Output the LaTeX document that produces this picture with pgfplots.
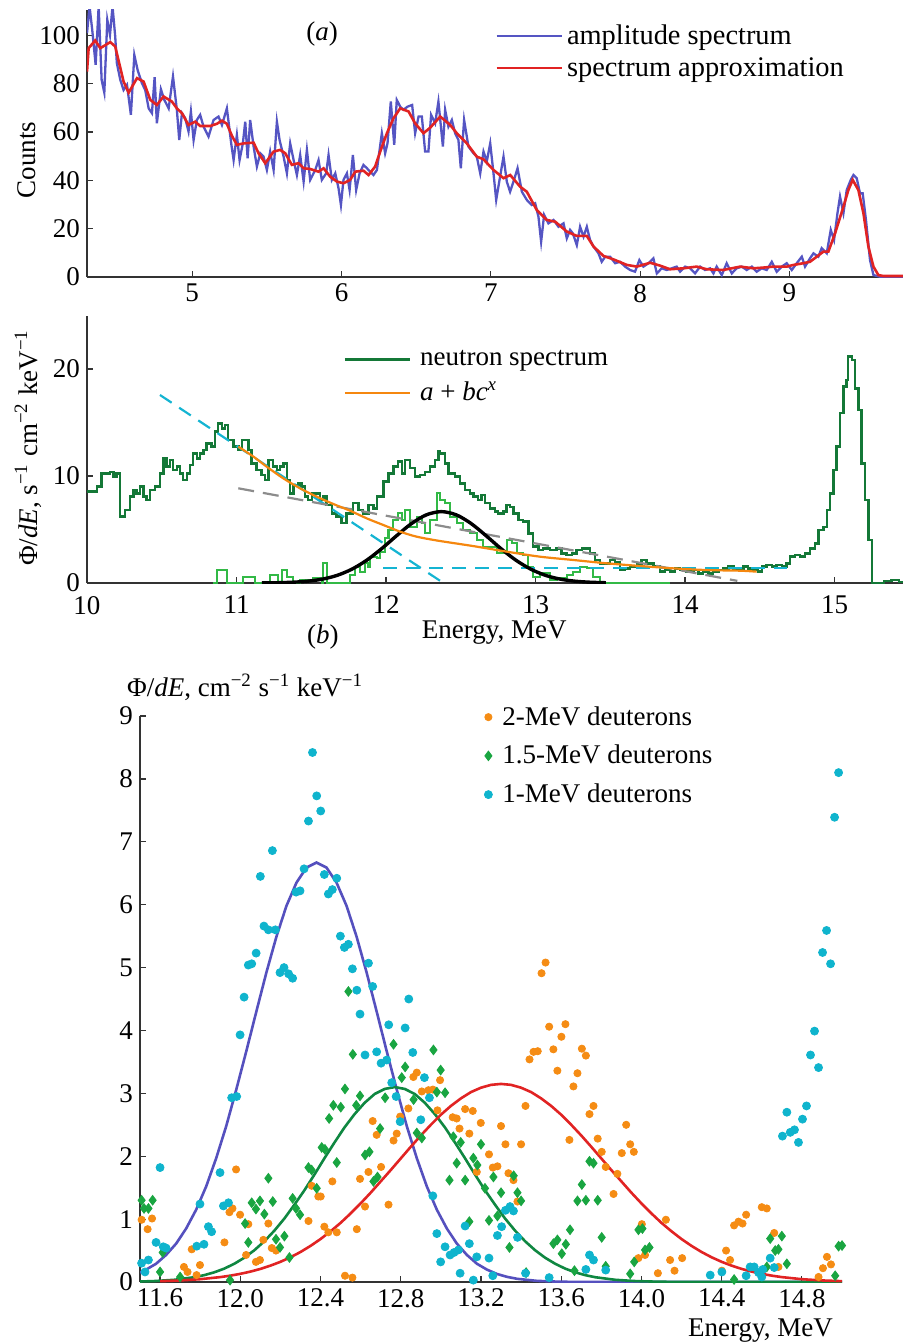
\documentclass[border=0pt]{standalone}
\usepackage{fontspec}
\setmainfont{Liberation Serif}
\usepackage{pgfplots}
\pgfplotsset{compat=1.18}

\definecolor{ablue}{RGB}{85,85,195}
\definecolor{ared}{RGB}{225,35,35}
\definecolor{dgreen}{RGB}{20,120,55}
\definecolor{lgreen}{RGB}{50,185,70}
\definecolor{borange}{RGB}{245,135,15}
\definecolor{bcyan}{RGB}{20,180,210}
\definecolor{bgray}{RGB}{140,140,140}
\definecolor{cpurple}{RGB}{85,80,190}
\definecolor{cgreen}{RGB}{15,135,65}
\definecolor{mgreen}{RGB}{25,165,65}
\definecolor{corange}{RGB}{245,140,20}
\definecolor{ccyan}{RGB}{15,180,205}

\newcommand\fs{\fontsize{13.5}{16}\selectfont}
\pgfplotsset{
  myaxis/.style={
    scale only axis, axis lines*=left, tick align=inside, major tick length=3pt,
    axis line style={line width=0.75pt, black!80}, tick style={line width=0.6pt, black!80},
    font=\fs, clip mode=individual,
    /pgf/number format/assume math mode=true,
    legend style={draw=none, fill=none, inner sep=0pt, row sep=1pt,
      cells={anchor=west}, font=\fs},
  },
  lineleg/.style={legend image code/.code={\draw[##1] (0pt,0pt) -- (32.5pt,0pt);}},
}

\begin{document}
\begin{tikzpicture}
\useasboundingbox (0,0) rectangle (451.5pt,-671.5pt);

% ---------- (a)
\begin{axis}[myaxis, lineleg, at={(43.5pt,-138.5pt)}, anchor=south west,
  width=408pt, height=133.5pt,
  xmin=4.295, xmax=9.761, ymin=0, ymax=110.5,
  xtick={5,6,7,8,9}, ytick={0,20,40,60,80,100},
  ylabel={Counts},
  every axis y label/.style={at={(axis description cs:-0.0735,0.438)},rotate=90,anchor=center},
  legend style={at={(axis description cs:0.5,0.962)},anchor=north west, font=\fontsize{14.2}{16}\selectfont},
]
\addplot[ablue, line width=1.15pt] coordinates {
(4.295,100.9)(4.312,112)(4.330,102.3)(4.353,87.8)(4.373,112)(4.393,81.6)(4.411,76.3)(4.431,106.4)(4.449,100.2)(4.466,112)(4.484,99.5)(4.495,88.5)(4.518,81.6)(4.540,77.4)(4.563,79.5)(4.589,67.1)(4.612,91.9)(4.634,85.7)(4.663,80.2)(4.685,77.4)(4.708,69.8)(4.730,67.8)(4.748,82.7)(4.763,63.6)(4.790,77.7)(4.813,73.3)(4.842,69.8)(4.871,83.0)(4.897,69.2)(4.913,56.7)(4.931,67.8)(4.953,65.7)(4.975,60.2)(4.991,68.5)(5.009,56.7)(5.031,65.0)(5.053,67.1)(5.076,62.2)(5.109,58.1)(5.143,65.0)(5.176,66.4)(5.199,62.9)(5.232,69.8)(5.261,55.3)(5.277,48.4)(5.299,58.8)(5.317,48.4)(5.339,55.3)(5.355,64.3)(5.371,49.1)(5.388,65.0)(5.411,54.0)(5.433,45.7)(5.456,51.2)(5.478,49.8)(5.500,44.3)(5.522,51.9)(5.545,44.3)(5.567,64.3)(5.585,56.7)(5.612,49.8)(5.634,42.9)(5.656,55.3)(5.679,48.4)(5.701,42.2)(5.723,50.5)(5.746,39.5)(5.768,52.6)(5.790,40.2)(5.824,44.3)(5.846,48.4)(5.868,40.2)(5.897,42.9)(5.913,50.5)(5.935,40.2)(5.958,42.9)(5.980,36.7)(5.996,29.8)(6.013,40.2)(6.036,42.9)(6.054,36.0)(6.076,50.5)(6.098,36.0)(6.121,42.9)(6.147,46.4)(6.170,45.0)(6.192,43.6)(6.214,42.2)(6.237,44.3)(6.270,59.5)(6.292,51.2)(6.308,55.3)(6.330,72.6)(6.353,54.7)(6.370,73.3)(6.393,70.5)(6.415,69.2)(6.442,70.5)(6.473,71.2)(6.493,59.5)(6.516,66.4)(6.538,66.4)(6.560,51.9)(6.582,51.9)(6.600,67.1)(6.627,63.6)(6.649,72.6)(6.679,54.0)(6.694,69.2)(6.716,62.2)(6.739,65.0)(6.761,59.5)(6.783,56.7)(6.799,45.0)(6.821,65.0)(6.850,54.0)(6.884,51.2)(6.906,49.8)(6.929,42.9)(6.951,51.9)(6.973,47.8)(6.996,55.3)(7.018,42.9)(7.036,31.9)(7.062,41.5)(7.085,49.8)(7.107,39.5)(7.129,35.3)(7.152,39.5)(7.179,45.0)(7.208,35.3)(7.241,31.9)(7.274,29.8)(7.297,30.5)(7.319,25.0)(7.337,14.6)(7.357,25.7)(7.386,22.2)(7.420,23.6)(7.453,20.8)(7.487,22.2)(7.509,16.0)(7.531,19.5)(7.549,18.1)(7.576,13.2)(7.598,20.8)(7.621,16.7)(7.643,20.8)(7.665,15.3)(7.688,12.6)(7.721,9.8)(7.743,6.3)(7.766,8.4)(7.799,8.4)(7.833,5.7)(7.866,6.3)(7.899,4.3)(7.933,2.9)(7.966,2.2)(7.995,7.0)(8.022,4.3)(8.056,5.7)(8.089,7.7)(8.112,1.5)(8.145,3.6)(8.178,2.9)(8.212,3.6)(8.245,4.3)(8.268,2.2)(8.301,4.3)(8.335,3.6)(8.368,1.5)(8.402,4.3)(8.435,2.9)(8.469,3.6)(8.491,1.5)(8.513,4.3)(8.547,0.8)(8.580,5.7)(8.614,1.5)(8.647,3.6)(8.681,4.3)(8.714,2.9)(8.748,4.3)(8.781,2.2)(8.815,3.6)(8.848,2.9)(8.882,6.3)(8.915,2.2)(8.949,4.3)(8.982,5.7)(9.016,2.9)(9.049,5.7)(9.083,8.4)(9.105,4.3)(9.138,7.7)(9.161,9.8)(9.194,8.4)(9.216,11.9)(9.250,9.8)(9.277,19.5)(9.299,15.3)(9.322,26.4)(9.339,33.3)(9.362,26.4)(9.384,36.0)(9.411,40.2)(9.429,42.2)(9.451,40.9)(9.473,34.6)(9.491,34.6)(9.513,23.6)(9.540,7.0)(9.563,0.8)(9.607,0.1)(9.761,0.1)};
\addlegendentry{amplitude spectrum}
\addplot[ared, line width=1.3pt] coordinates {
(4.295,85.0)(4.306,94.7)(4.350,97.9)(4.384,94.7)(4.451,97.2)(4.484,95.4)(4.540,80.9)(4.574,76.3)(4.630,82.3)(4.674,80.9)(4.719,73.3)(4.763,71.2)(4.808,74.7)(4.864,72.6)(4.897,69.8)(4.931,67.8)(4.975,62.9)(5.020,64.3)(5.053,62.5)(5.121,62.5)(5.165,63.4)(5.199,64.7)(5.232,63.4)(5.266,58.4)(5.299,54.7)(5.344,55.3)(5.411,55.6)(5.444,51.2)(5.489,47.1)(5.545,51.9)(5.589,52.6)(5.623,51.2)(5.667,46.4)(5.712,47.1)(5.746,45.0)(5.790,44.7)(5.846,43.6)(5.880,45.0)(5.924,41.5)(5.969,39.5)(6.013,38.8)(6.058,40.2)(6.092,43.6)(6.147,44.0)(6.181,42.2)(6.225,45.7)(6.259,51.9)(6.304,59.5)(6.348,65.7)(6.393,69.8)(6.449,68.5)(6.493,63.6)(6.549,59.5)(6.594,61.8)(6.661,66.4)(6.728,62.9)(6.772,59.5)(6.839,55.3)(6.906,49.8)(6.951,48.7)(7.018,44.3)(7.085,40.9)(7.130,42.2)(7.196,37.4)(7.241,35.3)(7.308,27.7)(7.375,23.6)(7.431,22.9)(7.509,18.8)(7.576,17.0)(7.643,17.0)(7.688,12.6)(7.755,8.7)(7.821,7.3)(7.911,5.0)(7.978,4.3)(8.067,5.9)(8.134,4.7)(8.201,3.2)(8.290,3.6)(8.379,4.3)(8.446,3.2)(8.558,2.9)(8.670,4.3)(8.759,3.6)(8.826,3.9)(8.893,4.3)(8.982,4.3)(9.027,5.0)(9.094,5.7)(9.138,6.3)(9.183,8.4)(9.228,10.5)(9.261,10.5)(9.306,18.1)(9.362,29.1)(9.395,36.0)(9.424,40.2)(9.462,36.0)(9.496,26.4)(9.529,12.6)(9.563,4.3)(9.596,0.8)(9.630,0.4)(9.761,0.4)};
\addlegendentry{spectrum approximation}
\node[anchor=base] at (axis description cs:0.288,0.884) {(\textit{a})};
\end{axis}

% ---------- (b)
\begin{axis}[myaxis, lineleg, at={(43.5pt,-291.5pt)}, anchor=south west,
  width=408pt, height=133.5pt,
  xmin=10, xmax=15.458, ymin=0, ymax=24.95,
  xtick={10,11,12,13,14,15}, ytick={0,10,20},
  xticklabel style={yshift=-3pt},
  xlabel={Energy, MeV},
  every axis x label/.style={at={(axis description cs:0.499,-0.206)},anchor=base},
  ylabel={Φ/\textit{dE}, s\textsuperscript{−1} cm\textsuperscript{−2} keV\textsuperscript{−1}},
  every axis y label/.style={at={(axis description cs:-0.072,0.506)},rotate=90,anchor=center},
  legend style={at={(axis description cs:0.314,0.887)},anchor=north west, row sep=2.5pt, column sep=2.5pt},
]
\addplot[dgreen, line width=1.2pt, const plot] coordinates {
(10.0,8.54)(10.065,9.00)(10.098,10.25)(10.154,10.40)(10.176,9.94)(10.198,10.25)(10.221,6.20)(10.254,6.82)(10.288,8.07)(10.310,8.69)(10.332,8.38)(10.354,9.00)(10.377,8.07)(10.399,7.76)(10.421,8.69)(10.455,9.00)(10.488,10.25)(10.511,11.65)(10.533,10.87)(10.555,11.50)(10.577,10.56)(10.600,10.87)(10.622,10.25)(10.644,9.63)(10.667,10.25)(10.689,11.03)(10.711,12.12)(10.734,11.65)(10.756,12.12)(10.778,12.43)(10.800,13.05)(10.834,12.74)(10.856,14.14)(10.878,14.92)(10.901,14.45)(10.923,14.77)(10.945,13.36)(10.979,12.74)(11.012,12.43)(11.035,13.36)(11.057,13.36)(11.079,12.43)(11.101,11.18)(11.135,10.56)(11.168,10.09)(11.191,9.63)(11.213,11.50)(11.246,10.87)(11.269,10.56)(11.291,10.87)(11.313,11.18)(11.336,9.63)(11.358,8.38)(11.380,9.16)(11.414,9.31)(11.436,9.00)(11.458,8.07)(11.480,7.76)(11.503,8.38)(11.536,8.38)(11.559,7.76)(11.581,8.07)(11.603,7.29)(11.637,6.51)(11.670,6.20)(11.703,5.58)(11.737,6.51)(11.781,7.45)(11.815,6.82)(11.848,6.51)(11.882,7.29)(11.915,6.98)(11.938,8.07)(11.982,9.47)(12.016,10.25)(12.049,10.87)(12.082,11.34)(12.105,10.25)(12.127,11.50)(12.161,10.72)(12.194,9.94)(12.227,10.09)(12.261,10.40)(12.294,10.87)(12.328,11.50)(12.350,12.27)(12.361,12.12)(12.394,11.18)(12.417,10.25)(12.461,9.94)(12.495,9.31)(12.528,8.69)(12.562,8.38)(12.584,8.07)(12.617,7.76)(12.640,8.22)(12.662,7.45)(12.695,6.98)(12.729,6.67)(12.751,6.51)(12.785,6.67)(12.807,7.29)(12.829,7.13)(12.852,6.51)(12.885,5.89)(12.918,5.73)(12.952,4.64)(12.985,3.40)(13.019,3.08)(13.052,3.24)(13.097,3.08)(13.141,3.24)(13.175,2.77)(13.208,2.62)(13.242,2.77)(13.275,3.08)(13.309,3.24)(13.342,3.24)(13.364,2.77)(13.398,2.15)(13.431,1.84)(13.465,1.84)(13.498,2.15)(13.532,1.99)(13.565,1.21)(13.598,1.37)(13.632,1.53)(13.677,1.84)(13.710,2.15)(13.743,1.84)(13.788,1.53)(13.833,1.06)(13.866,1.21)(13.899,1.06)(13.933,1.37)(13.966,1.21)(14.011,1.06)(14.056,1.21)(14.089,0.90)(14.122,1.06)(14.156,0.90)(14.189,1.06)(14.223,1.21)(14.256,1.37)(14.290,1.53)(14.323,1.37)(14.357,1.21)(14.390,1.53)(14.423,1.37)(14.457,1.21)(14.490,1.06)(14.513,1.53)(14.546,1.68)(14.580,1.53)(14.613,1.68)(14.647,1.53)(14.680,1.84)(14.702,2.46)(14.736,2.62)(14.769,2.46)(14.803,2.77)(14.836,3.24)(14.869,3.71)(14.892,4.95)(14.925,5.26)(14.948,6.82)(14.970,8.38)(14.992,10.56)(15.014,12.74)(15.037,15.86)(15.059,18.35)(15.081,18.97)(15.092,21.15)(15.115,20.84)(15.137,18.19)(15.159,16.17)(15.181,11.18)(15.204,7.76)(15.226,4.02)(15.249,0)(15.33,0.2)(15.38,0.3)(15.43,0.1)(15.46,0)};
\addlegendentry{neutron spectrum}
\addplot[lgreen, line width=1.1pt, const plot, forget plot] coordinates {
(10.845,0)(10.867,1.21)(10.934,0)(11.046,0.59)(11.124,0)(11.224,0.75)(11.280,0)(11.302,1.21)(11.336,0.59)(11.380,0)(11.425,0.28)(11.514,0.44)(11.570,0)(11.581,1.84)(11.603,0)(11.759,0.75)(11.793,1.53)(11.826,1.06)(11.860,1.84)(11.882,1.53)(11.893,2.46)(11.938,2.31)(11.960,2.93)(11.993,4.17)(12.016,4.95)(12.049,5.89)(12.082,6.51)(12.105,5.89)(12.127,6.82)(12.161,5.26)(12.205,6.20)(12.239,5.58)(12.261,4.64)(12.294,5.89)(12.339,8.38)(12.361,7.76)(12.394,7.45)(12.428,6.20)(12.473,5.58)(12.517,4.95)(12.562,4.64)(12.606,4.02)(12.651,3.40)(12.695,3.40)(12.740,2.77)(12.785,2.77)(12.807,4.02)(12.840,3.71)(12.874,2.77)(12.918,2.62)(12.952,1.53)(12.985,0.59)(13.030,0.90)(13.097,0.28)(13.141,0.44)(13.208,0.75)(13.253,1.06)(13.297,1.53)(13.342,1.37)(13.387,0.59)(13.431,0)(13.9,0)};
\addplot[bcyan, line width=1.1pt, dash pattern=on 7pt off 4.5pt, forget plot] coordinates {(10.488,17.57)(12.384,0)};
\addplot[bcyan, line width=1.1pt, dash pattern=on 7pt off 4.5pt, forget plot] coordinates {(11.982,1.37)(14.68,1.37)};
\addplot[bgray, line width=1.1pt, dash pattern=on 8pt off 4.5pt, forget plot] coordinates {(11.012,8.85)(14.35,0.2)};
\addplot[black, line width=1.7pt, smooth, forget plot] coordinates {
(11.17,0.01)(11.27,0.026)(11.37,0.07)(11.47,0.16)(11.57,0.35)(11.67,0.70)(11.77,1.28)(11.87,2.12)(11.97,3.20)(12.07,4.41)(12.17,5.55)(12.27,6.37)(12.37,6.67)(12.47,6.37)(12.57,5.55)(12.67,4.41)(12.77,3.20)(12.87,2.12)(12.97,1.28)(13.07,0.70)(13.17,0.35)(13.27,0.16)(13.37,0.07)(13.47,0.026)};
\addplot[borange, line width=1.1pt, smooth] coordinates {
(11.012,12.74)(11.113,11.81)(11.202,10.87)(11.313,9.78)(11.425,8.85)(11.536,8.07)(11.648,7.38)(11.759,6.76)(11.871,6.04)(11.982,5.42)(12.094,4.80)(12.205,4.33)(12.35,3.95)(12.584,3.45)(12.807,2.93)(13.030,2.46)(13.253,2.15)(13.476,1.84)(13.699,1.59)(13.922,1.37)(14.145,1.21)(14.368,1.15)(14.479,1.06)};
\addlegendentry{\textit{a} + \textit{bc}\textsuperscript{\textit{x}}}
\node[anchor=base] at (axis description cs:0.289,-0.225) {(\textit{b})};
\end{axis}

% ---------- (c)
\begin{axis}[myaxis, at={(70pt,-641pt)}, anchor=south west,
  width=351pt, height=283pt,
  xmin=11.5, xmax=15.0, ymin=0, ymax=9,
  xtick={11.6,12.0,12.4,12.8,13.2,13.6,14.0,14.4,14.8}, ytick={0,1,2,3,4,5,6,7,8,9},
  xticklabel style={/pgf/number format/.cd,fixed,fixed zerofill,precision=1},
  xlabel={Energy, MeV},
  every axis x label/.style={at={(axis description cs:0.997,-0.097)},anchor=base east},
  ylabel={Φ/\textit{dE}, cm\textsuperscript{−2} s\textsuperscript{−1} keV\textsuperscript{−1}},
  every axis y label/.style={at={(axis description cs:-0.0285,1.051)},anchor=west},
  legend style={at={(axis description cs:0.49,1.025)},anchor=north west, row sep=4.5pt, column sep=3pt},
  legend image code/.code={\draw[#1] plot coordinates {(2pt,0pt)};},
]
\addplot[cpurple, line width=1.3pt, forget plot] coordinates {
(11.5,0.15)(11.53,0.197)(11.58,0.29)(11.63,0.43)(11.68,0.61)(11.73,0.85)(11.78,1.15)(11.83,1.52)(11.88,1.97)(11.93,2.48)(11.98,3.06)(12.03,3.67)(12.08,4.30)(12.13,4.92)(12.18,5.49)(12.23,5.98)(12.28,6.35)(12.33,6.59)(12.38,6.67)(12.43,6.59)(12.48,6.35)(12.53,5.98)(12.58,5.49)(12.63,4.92)(12.68,4.30)(12.73,3.67)(12.78,3.06)(12.83,2.48)(12.88,1.97)(12.93,1.52)(12.98,1.15)(13.03,0.85)(13.08,0.61)(13.13,0.43)(13.18,0.29)(13.23,0.197)(13.28,0.128)(13.33,0.082)(13.38,0.051)(13.48,0.018)(13.58,0.006)(13.7,0)(15.0,0)};
\addplot[cgreen, line width=1.3pt, forget plot] coordinates {
(11.5,0.008)(11.57,0.015)(11.67,0.035)(11.77,0.076)(11.82,0.109)(11.87,0.154)(11.92,0.213)(11.97,0.290)(12.02,0.386)(12.07,0.505)(12.12,0.648)(12.17,0.817)(12.22,1.01)(12.27,1.23)(12.32,1.46)(12.37,1.71)(12.42,1.97)(12.47,2.22)(12.52,2.46)(12.57,2.67)(12.62,2.85)(12.67,2.99)(12.72,3.07)(12.77,3.10)(12.82,3.07)(12.87,2.99)(12.92,2.85)(12.97,2.67)(13.02,2.46)(13.07,2.22)(13.12,1.97)(13.17,1.71)(13.22,1.46)(13.27,1.23)(13.32,1.01)(13.37,0.817)(13.42,0.648)(13.47,0.505)(13.52,0.386)(13.57,0.290)(13.62,0.213)(13.67,0.154)(13.72,0.109)(13.77,0.076)(13.87,0.035)(13.97,0.015)(14.07,0.006)(14.2,0)(15.0,0)};
\addplot[ared, line width=1.3pt, forget plot] coordinates {
(11.6,0.0135)(11.7,0.025)(11.8,0.045)(11.9,0.078)(11.95,0.101)(12.0,0.130)(12.05,0.165)(12.1,0.208)(12.15,0.260)(12.2,0.321)(12.25,0.393)(12.3,0.477)(12.35,0.574)(12.4,0.683)(12.45,0.806)(12.5,0.94)(12.55,1.09)(12.6,1.25)(12.65,1.42)(12.7,1.60)(12.75,1.78)(12.8,1.965)(12.85,2.15)(12.9,2.33)(12.95,2.50)(13.0,2.66)(13.05,2.80)(13.1,2.92)(13.15,3.02)(13.2,3.09)(13.25,3.135)(13.3,3.15)(13.35,3.135)(13.4,3.09)(13.45,3.02)(13.5,2.92)(13.55,2.80)(13.6,2.66)(13.65,2.50)(13.7,2.33)(13.75,2.15)(13.8,1.965)(13.85,1.78)(13.9,1.60)(13.95,1.42)(14.0,1.25)(14.05,1.09)(14.1,0.94)(14.15,0.806)(14.2,0.683)(14.25,0.574)(14.3,0.477)(14.35,0.393)(14.4,0.321)(14.45,0.260)(14.5,0.208)(14.55,0.165)(14.6,0.130)(14.65,0.101)(14.7,0.078)(14.8,0.045)(14.9,0.025)(15.0,0.0135)};
\addplot[only marks, mark=*, mark size=1.8pt, mark options={draw=corange, fill=corange}] coordinates {
(13.522,5.08)(13.502,4.91)(13.540,4.06)(13.621,4.10)(13.601,3.90)(11.979,1.79)(11.560,1.01)(11.538,0.84)(11.508,0.99)(11.961,1.17)(11.946,1.11)(11.999,1.07)(11.921,0.63)(11.758,0.52)(11.719,0.24)(11.737,0.16)(11.799,0.27)(11.782,0.11)(12.040,0.92)(12.140,0.93)(12.029,0.43)(12.078,0.32)(12.098,0.35)(12.115,0.67)(12.157,0.54)(12.178,0.50)(12.340,0.97)(12.356,1.53)(12.389,1.36)(12.401,1.36)(12.419,0.88)(12.439,0.79)(12.481,0.79)(12.459,1.60)(12.522,0.10)(12.559,0.07)(12.581,0.84)(12.597,1.64)(12.622,1.20)(12.639,1.75)(12.660,2.56)(12.680,2.34)(12.702,1.83)(12.739,1.23)(12.764,2.25)(12.780,2.36)(12.797,2.63)(12.838,2.76)(12.863,3.26)(12.880,3.33)(12.905,3.03)(12.938,3.05)(12.960,3.06)(12.996,3.21)(12.983,2.73)(13.059,2.62)(13.079,2.60)(13.093,2.44)(13.442,3.54)(13.462,3.66)(13.483,3.67)(13.561,3.70)(13.581,3.36)(13.703,3.71)(13.723,3.60)(13.681,3.32)(13.661,3.11)(13.422,2.80)(13.741,2.67)(13.761,2.80)(13.641,2.26)(13.782,2.28)(13.802,2.07)(13.924,2.50)(13.944,2.19)(13.962,2.07)(13.902,2.05)(13.822,1.83)(13.880,1.72)(13.861,1.40)(14.002,0.92)(14.018,0.43)(13.985,0.38)(14.122,0.99)(14.082,0.14)(14.143,0.35)(14.165,0.18)(14.203,0.38)(14.422,0.50)(14.442,0.35)(14.401,0.18)(14.462,0.90)(14.484,0.96)(14.504,0.93)(14.522,1.07)(14.600,1.19)(14.625,1.17)(14.662,0.78)(14.683,0.24)(14.883,0.08)(14.905,0.22)(14.925,0.40)(14.945,0.28)(13.121,2.75)(13.159,2.72)(13.142,2.36)(13.199,2.53)(13.300,2.48)(13.322,2.19)(13.400,2.19)(13.240,2.03)(13.259,1.82)(13.282,1.84)(13.337,1.73)(13.179,1.75)(13.362,1.62)(13.382,1.28)};
\addlegendentry{2-MeV deuterons}
\addplot[only marks, mark=diamond*, mark size=2.4pt, mark options={draw=mgreen, fill=mgreen}] coordinates {
(12.539,4.62)(12.764,3.78)(12.561,3.62)(12.963,3.69)(12.822,3.42)(12.999,3.37)(12.805,3.25)(12.864,2.90)(12.722,2.93)(12.597,2.96)(12.522,3.07)(12.980,3.02)(13.021,3.01)(12.464,2.81)(12.501,2.78)(12.578,2.81)(12.443,2.60)(12.697,2.44)(12.406,2.14)(12.422,2.11)(12.905,2.29)(12.880,2.37)(12.622,2.02)(12.644,2.07)(12.481,1.90)(13.079,1.89)(12.340,1.82)(12.356,1.78)(12.381,1.49)(12.664,1.60)(12.684,1.67)(13.043,1.62)(12.140,1.65)(12.261,1.33)(12.278,1.17)(12.298,1.07)(12.057,1.26)(12.098,1.29)(12.078,1.16)(12.120,1.08)(12.162,1.28)(12.024,0.93)(12.178,0.68)(12.040,0.63)(12.220,0.73)(12.198,0.55)(12.245,0.39)(11.508,1.30)(11.520,1.17)(11.542,1.17)(11.563,1.30)(11.600,0.16)(11.613,0.47)(11.700,0.08)(11.949,0.03)(13.062,2.31)(13.099,2.22)(13.121,1.62)(13.162,1.97)(13.182,1.86)(13.200,2.19)(13.220,1.49)(13.262,1.67)(13.300,1.42)(13.363,1.69)(13.382,1.42)(13.400,1.29)(13.142,0.96)(13.240,0.98)(13.282,1.05)(13.342,0.55)(13.425,0.15)(13.561,0.61)(13.581,0.67)(13.603,0.45)(13.623,0.60)(13.644,0.83)(13.666,0.18)(13.703,1.55)(13.741,1.92)(13.761,1.89)(13.681,1.29)(13.723,1.30)(13.782,1.30)(13.802,0.71)(13.822,0.25)(13.944,0.13)(13.964,0.32)(13.985,0.83)(14.005,0.85)(14.018,0.51)(14.040,0.55)(14.462,0.04)(14.642,0.69)(14.700,0.73)(14.667,0.50)(14.683,0.52)(14.725,0.29)(14.625,0.24)(14.966,0.10)(14.983,0.57)(15.0,0.58)};
\addlegendentry{1.5-MeV deuterons}
\addplot[only marks, mark=*, mark size=2pt, mark options={draw=ccyan, fill=ccyan}] coordinates {
(12.360,8.42)(12.381,7.73)(12.401,7.49)(12.340,7.33)(12.160,6.86)(12.100,6.45)(12.318,6.57)(12.419,6.48)(12.481,6.42)(12.298,6.22)(12.278,6.20)(12.439,6.17)(12.459,6.24)(12.118,5.66)(12.140,5.60)(12.175,5.60)(12.079,5.23)(12.040,5.04)(12.057,5.06)(12.198,4.92)(12.218,5.00)(12.241,4.90)(12.261,4.83)(12.499,5.50)(12.519,5.32)(12.539,5.37)(12.559,4.98)(12.581,4.64)(12.639,5.07)(12.660,4.70)(12.597,4.26)(12.740,4.09)(12.822,4.04)(12.840,4.50)(12.019,4.53)(11.999,3.93)(14.983,8.10)(14.963,7.39)(14.923,5.59)(14.903,5.24)(14.943,5.06)(14.863,3.99)(12.622,3.61)(12.680,3.66)(12.702,3.48)(12.730,3.53)(12.755,3.17)(12.860,3.65)(12.918,3.25)(12.943,2.93)(12.797,2.55)(12.900,2.58)(12.777,2.95)(11.957,2.93)(11.982,2.95)(11.899,1.74)(11.600,1.82)(11.799,1.24)(11.916,1.21)(11.941,1.26)(11.841,0.88)(11.857,0.80)(11.819,0.60)(11.783,0.57)(11.580,0.63)(11.616,0.56)(11.630,0.54)(11.542,0.35)(11.508,0.30)(11.525,0.16)(12.960,1.37)(12.980,0.77)(13.021,0.56)(12.999,0.32)(13.046,0.43)(13.066,0.47)(13.088,0.51)(13.096,0.14)(14.843,3.61)(14.883,3.41)(14.725,2.70)(14.703,2.32)(14.742,2.38)(14.763,2.42)(14.783,2.22)(14.803,2.59)(14.823,2.80)(13.121,0.89)(13.142,0.61)(13.179,0.40)(13.162,0.03)(13.240,0.38)(13.259,0.10)(13.282,0.74)(13.303,0.88)(13.322,1.14)(13.345,1.20)(13.362,1.13)(13.382,0.71)(13.422,0.14)(13.540,0.07)(13.723,0.20)(13.741,0.43)(13.761,0.35)(13.822,0.19)(14.343,0.11)(14.401,0.16)(14.522,0.10)(14.542,0.24)(14.562,0.24)(14.584,0.15)(14.605,0.20)(14.642,0.38)(14.662,0.23)(14.600,0.08)};
\addlegendentry{1-MeV deuterons}
\end{axis}
\end{tikzpicture}
\end{document}
